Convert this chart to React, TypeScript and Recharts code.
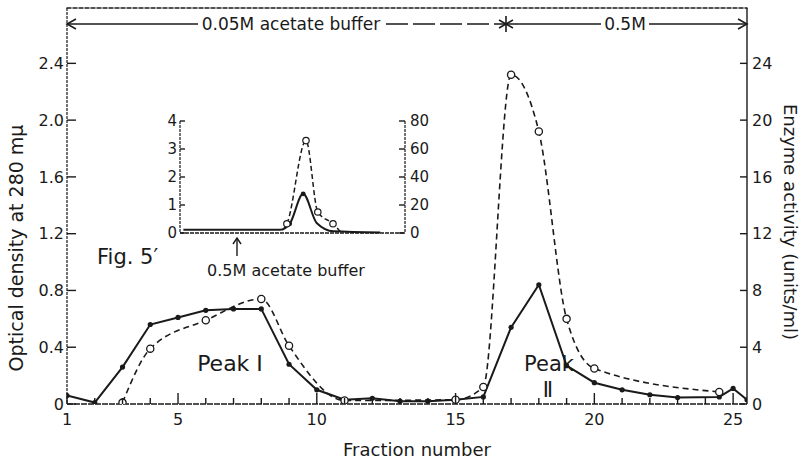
import React from "react";
import { LineChart, Line, XAxis, YAxis } from "recharts";

// main chart: optical density (solid, filled dots) and enzyme activity (dashed, open circles)
const OD_FRACTIONS = [1, 2, 3, 4, 5, 6, 7, 8, 9, 10, 11, 12, 13, 14, 15, 16, 17, 18, 19, 20, 21, 22, 23, 24.5, 25, 25.5];
const OD_VALUES = [0.06, 0.01, 0.26, 0.56, 0.61, 0.66, 0.67, 0.67, 0.28, 0.1, 0.03, 0.04, 0.02, 0.02, 0.03, 0.05, 0.54, 0.84, 0.27, 0.15, 0.1, 0.065, 0.045, 0.05, 0.11, 0.03];
const ENZ_FRACTIONS = [3, 4, 6, 8, 9, 11, 15, 16, 17, 18, 19, 20, 24.5];
const ENZ_VALUES = [0.1, 3.9, 5.9, 7.4, 4.1, 0.25, 0.3, 1.2, 23.2, 19.2, 6.0, 2.5, 0.85];

const FRACTION_TICKS = [1, 2, 3, 4, 5, 6, 7, 8, 9, 10, 11, 12, 13, 14, 15, 16, 17, 18, 19, 20, 21, 22, 23, 24, 25];
const FRACTION_LABELS = [1, 5, 10, 15, 20, 25];
const OD_TICKS = [0, 0.4, 0.8, 1.2, 1.6, 2.0, 2.4];
const ENZ_TICKS = [0, 4, 8, 12, 16, 20, 24];

// inset (Fig. 5')
const INSET_POS_OD = [0.6, 17.8, 19.5, 21.9, 24.3, 27.3, 35.6];
const INSET_OD = [0.12, 0.12, 0.33, 1.4, 0.36, 0.06, 0.02];
const INSET_POS_ENZ = [18.2, 19.0, 22.4, 24.5, 27.2, 28.5];
const INSET_ENZ = [2, 6.6, 66, 15, 6.6, 1];
const INSET_OD_TICKS = [0, 1, 2, 3, 4];
const INSET_ENZ_TICKS = [0, 20, 40, 60, 80];

const FONT = "'DejaVu Sans', 'Liberation Sans', sans-serif";
const INK = "#1a1a1a";

const odData = OD_FRACTIONS.map((f, i) => ({ f, od: OD_VALUES[i] }));
const enzData = ENZ_FRACTIONS.map((f, i) => ({ f, enz: ENZ_VALUES[i] }));
const insetOd = INSET_POS_OD.map((p, i) => ({ p, od: INSET_OD[i] }));
const insetEnz = INSET_POS_ENZ.map((p, i) => ({ p, enz: INSET_ENZ[i] }));

const fmtOd = (v: number) => (v === 0 ? "0" : v.toFixed(1));

const FracTick = (props: any) => {
  const { x, y, payload } = props;
  const major = FRACTION_LABELS.includes(payload.value);
  return (
    <g>
      <line x1={x} x2={x} y1={y} y2={y - (major ? 11 : 6)} stroke={INK} strokeWidth={1.4} />
      {major && (
        <text x={x} y={y + 21} textAnchor="middle" fontSize={16} fontFamily={FONT} fill={INK}>
          {payload.value}
        </text>
      )}
    </g>
  );
};

const leftTick = (len: number, size: number, fmt: (v: number) => string) => (props: any) => {
  const { x, y, payload } = props;
  return (
    <g>
      <line x1={x} x2={x + len} y1={y} y2={y} stroke={INK} strokeWidth={1.4} />
      <text x={x - 3} y={y} dy="0.35em" textAnchor="end" fontSize={size} fontFamily={FONT} fill={INK}>
        {fmt(payload.value)}
      </text>
    </g>
  );
};

const rightTick = (len: number, size: number) => (props: any) => {
  const { x, y, payload } = props;
  return (
    <g>
      <line x1={x} x2={x - len} y1={y} y2={y} stroke={INK} strokeWidth={1.4} />
      <text x={x + 5} y={y} dy="0.35em" textAnchor="start" fontSize={size} fontFamily={FONT} fill={INK}>
        {payload.value}
      </text>
    </g>
  );
};

const filledDot = (props: any) => {
  const { cx, cy, index } = props;
  return <circle key={`fd${index}`} cx={cx} cy={cy} r={2.6} fill={INK} stroke="none" />;
};

const openDot = (props: any) => {
  const { cx, cy, index } = props;
  return <circle key={`od${index}`} cx={cx} cy={cy} r={3.6} fill="#fff" stroke={INK} strokeWidth={1.3} />;
};

const insetFilled = (props: any) => {
  const { cx, cy, index } = props;
  if (index !== 2 && index !== 3) return <g key={`if${index}`} />;
  return <circle key={`if${index}`} cx={cx} cy={cy} r={2.4} fill={INK} />;
};

const insetOpen = (props: any) => {
  const { cx, cy, index } = props;
  if (index === 0 || index === 5) return <g key={`io${index}`} />;
  return <circle key={`io${index}`} cx={cx} cy={cy} r={3.2} fill="#fff" stroke={INK} strokeWidth={1.2} />;
};

function Annotations() {
  const t = { fontFamily: FONT, fill: INK } as const;
  const star = [0, 60, 120].map((a) => {
    const r = (a * Math.PI) / 180;
    const dx = Math.sin(r) * 8;
    const dy = Math.cos(r) * 8;
    return <line key={a} x1={506 - dx} y1={24 - dy} x2={506 + dx} y2={24 + dy} stroke={INK} strokeWidth={1.6} />;
  });
  return (
    <svg width={803} height={462} style={{ position: "absolute", left: 0, top: 0, pointerEvents: "none" }}>
      {/* top frame */}
      <line x1={66.5} y1={8} x2={747.5} y2={8} stroke={INK} strokeWidth={1.3} strokeDasharray="5 1" />
      {/* buffer arrow line */}
      <line x1={67} y1={24} x2={198} y2={24} stroke={INK} strokeWidth={1.3} />
      <line x1={386} y1={24} x2={506} y2={24} stroke={INK} strokeWidth={1.3} strokeDasharray="22 5" />
      <line x1={506} y1={24} x2={601} y2={24} stroke={INK} strokeWidth={1.3} />
      <line x1={649} y1={24} x2={747} y2={24} stroke={INK} strokeWidth={1.3} />
      <polyline points="76,19 67,24 76,29" fill="none" stroke={INK} strokeWidth={1.5} />
      <polyline points="738,19 747,24 738,29" fill="none" stroke={INK} strokeWidth={1.5} />
      {star}
      <text x={291} y={30} textAnchor="middle" fontSize={17} {...t}>0.05M acetate buffer</text>
      <text x={625} y={30} textAnchor="middle" fontSize={17} {...t}>0.5M</text>

      {/* axis titles */}
      <text transform="translate(23,248) rotate(-90)" textAnchor="middle" fontSize={19} {...t}>
        Optical density at 280 mμ
      </text>
      <text transform="translate(784,222) rotate(90)" textAnchor="middle" fontSize={18} {...t}>
        Enzyme activity (units/ml)
      </text>
      <text x={417} y={456} textAnchor="middle" fontSize={18} {...t}>Fraction number</text>

      {/* figure labels */}
      <text x={97} y={264} fontSize={21} {...t}>Fig. 5′</text>
      <text x={230} y={371} textAnchor="middle" fontSize={22} {...t}>Peak Ⅰ</text>
      <text x={549} y={371} textAnchor="middle" fontSize={21} {...t}>Peak</text>
      <text x={548} y={397} textAnchor="middle" fontSize={21} {...t}>Ⅱ</text>

      {/* inset arrow and label */}
      <line x1={237} y1={256} x2={237} y2={239} stroke={INK} strokeWidth={1.4} />
      <polyline points="233,244 237,238 241,244" fill="none" stroke={INK} strokeWidth={1.4} />
      <text x={286} y={276} textAnchor="middle" fontSize={16} {...t}>0.5M acetate buffer</text>
    </svg>
  );
}

export default function App() {
  return (
    <div style={{ position: "absolute", left: 0, top: 0, width: 803, height: 462, background: "#fff" }}>
      <LineChart width={803} height={462} margin={{ top: 8, right: 26, bottom: 28, left: 27 }}>
        <XAxis
          xAxisId="f"
          dataKey="f"
          type="number"
          domain={[1, 25.5]}
          ticks={FRACTION_TICKS}
          allowDataOverflow
          height={30}
          tickSize={0}
          tickMargin={0}
          tick={<FracTick />}
          axisLine={{ stroke: INK, strokeWidth: 1.4, strokeDasharray: "6 1" }}
        />
        <YAxis
          yAxisId="od"
          orientation="left"
          width={40}
          type="number"
          domain={[0, 2.79]}
          ticks={OD_TICKS}
          allowDataOverflow
          tickSize={0}
          tickMargin={0}
          tick={leftTick(9, 16, fmtOd)}
          axisLine={{ stroke: INK, strokeWidth: 1.2, strokeDasharray: "3 1" }}
        />
        <YAxis
          yAxisId="enz"
          orientation="right"
          width={30}
          type="number"
          domain={[0, 27.9]}
          ticks={ENZ_TICKS}
          allowDataOverflow
          tickSize={0}
          tickMargin={0}
          tick={rightTick(7, 16)}
          axisLine={{ stroke: INK, strokeWidth: 1.4 }}
        />
        <Line
          xAxisId="f"
          yAxisId="od"
          data={odData}
          dataKey="od"
          type="linear"
          stroke={INK}
          strokeWidth={2}
          dot={filledDot}
          isAnimationActive={false}
        />
        <Line
          xAxisId="f"
          yAxisId="enz"
          data={enzData}
          dataKey="enz"
          type="monotone"
          stroke={INK}
          strokeWidth={1.6}
          strokeDasharray="6 4"
          dot={openDot}
          isAnimationActive={false}
        />
      </LineChart>

      <div style={{ position: "absolute", left: 140, top: 100 }}>
        <LineChart width={300} height={160} margin={{ top: 21, right: 0, bottom: 17, left: 0 }}>
          <XAxis
            xAxisId="p"
            dataKey="p"
            type="number"
            domain={[0, 40]}
            height={10}
            tick={false}
            tickLine={false}
            axisLine={{ stroke: INK, strokeWidth: 1.3, strokeDasharray: "4 1" }}
          />
          <YAxis
            yAxisId="od"
            orientation="left"
            width={40}
            type="number"
            domain={[0, 4]}
            ticks={INSET_OD_TICKS}
            tickSize={0}
            tickMargin={0}
            tick={leftTick(5, 15, (v) => String(v))}
            axisLine={{ stroke: INK, strokeWidth: 1.2, strokeDasharray: "3 1" }}
          />
          <YAxis
            yAxisId="enz"
            orientation="right"
            width={35}
            type="number"
            domain={[0, 80]}
            ticks={INSET_ENZ_TICKS}
            tickSize={0}
            tickMargin={0}
            tick={rightTick(6, 15)}
            axisLine={{ stroke: INK, strokeWidth: 1.2, strokeDasharray: "3 1" }}
          />
          <Line
            xAxisId="p"
            yAxisId="od"
            data={insetOd}
            dataKey="od"
            type="monotone"
            stroke={INK}
            strokeWidth={2}
            dot={insetFilled}
            isAnimationActive={false}
          />
          <Line
            xAxisId="p"
            yAxisId="enz"
            data={insetEnz}
            dataKey="enz"
            type="monotone"
            stroke={INK}
            strokeWidth={1.5}
            strokeDasharray="5 3"
            dot={insetOpen}
            isAnimationActive={false}
          />
        </LineChart>
      </div>

      <Annotations />
    </div>
  );
}
